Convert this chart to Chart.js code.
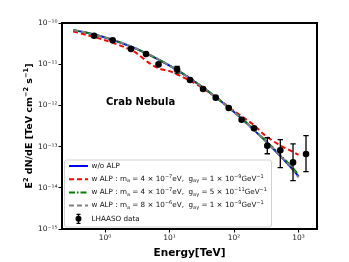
<!DOCTYPE html>
<html>
<head>
<meta charset="utf-8">
<script src="https://cdn.jsdelivr.net/npm/chart.js@4.4.1/dist/chart.umd.min.js"></script>
<style>
body{margin:0;background:#fff}
</style>
</head>
<body>
<canvas id="myChart" width="349" height="262"></canvas>
<script>
// model curves, TeV vs TeV cm^-2 s^-1
let energias=[0.32,0.5,1,2,3,5,7,10,15,20,30,50,70,100,150,200,300,500,700,1000]
let semAlp=[6.7e-11,5.86e-11,4.44e-11,3.08e-11,2.38e-11,1.64e-11,1.25e-11,9.2e-12,6.25e-12,4.7e-12,3.03e-12,1.67e-12,1.1e-12,6.9e-13,3.97e-13,2.6e-13,1.42e-13,6.3e-14,3.6e-14,1.9e-14]
let alpVermelho=[6.25e-11,5.2e-11,3.83e-11,2.59e-11,1.9e-11,1.03e-11,7.8e-12,6.8e-12,5.1e-12,4.1e-12,2.85e-12,1.67e-12,1.12e-12,7.3e-13,4.7e-13,3.4e-13,1.9e-13,1.1e-13,8.4e-14,6.3e-14]
let alpVerde=[6.75e-11,5.9e-11,4.46e-11,3.1e-11,2.4e-11,1.65e-11,1.26e-11,9.3e-12,6.3e-12,4.75e-12,3.05e-12,1.68e-12,1.1e-12,7.0e-13,4.0e-13,2.63e-13,1.45e-13,6.7e-14,3.9e-14,2.1e-14]
let alpCinza=[6.75e-11,5.9e-11,4.47e-11,3.12e-11,2.42e-11,1.67e-11,1.27e-11,9.3e-12,6.3e-12,4.72e-12,3.04e-12,1.67e-12,1.1e-12,6.9e-13,3.97e-13,2.6e-13,1.42e-13,6.4e-14,3.7e-14,1.8e-14]

// LHAASO points
let dadosE=[0.675,1.31,2.53,4.32,6.75,13.1,20.8,33.1,52,82.7,131,204,328,522,822,1307]
let dadosF=[4.9e-11,3.8e-11,2.34e-11,1.77e-11,9.9e-12,7.4e-12,4.14e-12,2.5e-12,1.54e-12,8.65e-13,4.5e-13,2.8e-13,1.05e-13,8.1e-14,4.14e-14,6.6e-14]
let dadosBaixo=[4.9e-11,3.8e-11,2.34e-11,1.77e-11,9.1e-12,6.05e-12,4.14e-12,2.5e-12,1.54e-12,8.65e-13,4.5e-13,2.8e-13,6.7e-14,3.1e-14,1.5e-14,2.46e-14]
let dadosAlto=[4.9e-11,3.8e-11,2.34e-11,1.77e-11,1.08e-11,8.9e-12,4.14e-12,2.5e-12,1.54e-12,8.65e-13,4.5e-13,2.8e-13,1.64e-13,1.47e-13,1.17e-13,1.84e-13]

let ticksX=[1,10,100,1000]
let ticksY=[1e-15,1e-14,1e-13,1e-12,1e-11,1e-10]
let supNum={'0':'⁰','1':'¹','2':'²','3':'³','4':'⁴','5':'⁵','6':'⁶','7':'⁷','8':'⁸','9':'⁹','-':'⁻'}

let legendaTextos=[
    [['w/o ALP',0]],
    [['w ALP : m',0],['a',-1],[' = 4 × 10',0],['−7',1],['eV,  g',0],['aγ',-1],[' = 1 × 10',0],['−9',1],['GeV',0],['−1',1]],
    [['w ALP : m',0],['a',-1],[' = 4 × 10',0],['−7',1],['eV,  g',0],['aγ',-1],[' = 5 × 10',0],['−11',1],['GeV',0],['−1',1]],
    [['w ALP : m',0],['a',-1],[' = 8 × 10',0],['−6',1],['eV,  g',0],['aγ',-1],[' = 1 × 10',0],['−9',1],['GeV',0],['−1',1]],
    [['LHAASO data',0]]
]

const fonte='"DejaVu Sans"'

function pares(xs,ys){
    return xs.map((v,i)=>({x:v,y:ys[i]}))
}
function expoente(v){
    let e=Math.round(Math.log10(v))
    return '10'+String(e).split('').map(c=>supNum[c]).join('')
}
function textoRico(ctx,partes,x,y,tam,negrito,medir){
    let cx=x
    for(let i=0;i<partes.length;i++){
        let t=partes[i][0]
        let m=partes[i][1]
        let fs=m?tam*0.7:tam
        ctx.font=(negrito?'bold ':'')+fs+'px '+fonte
        let dy=m===1?-tam*0.4:(m===-1?tam*0.25:0)
        if(!medir) ctx.fillText(t,cx,y+dy)
        cx+=ctx.measureText(t).width
    }
    return cx-x
}

const extras={
    id:'extras',
    afterDatasetsDraw(chart){
        const ctx=chart.ctx
        const sx=chart.scales.x
        const sy=chart.scales.y
        ctx.save()
        ctx.strokeStyle='#000'
        ctx.lineWidth=1.3
        for(let i=0;i<dadosE.length;i++){
            if(dadosAlto[i]/dadosBaixo[i]<1.05) continue
            let x=sx.getPixelForValue(dadosE[i])
            let y1=sy.getPixelForValue(dadosAlto[i])
            let y2=sy.getPixelForValue(dadosBaixo[i])
            ctx.beginPath()
            ctx.moveTo(x,y1);ctx.lineTo(x,y2)
            ctx.moveTo(x-2.7,y1);ctx.lineTo(x+2.7,y1)
            ctx.moveTo(x-2.7,y2);ctx.lineTo(x+2.7,y2)
            ctx.stroke()
        }
        ctx.restore()
    },
    afterDraw(chart){
        const ctx=chart.ctx
        const a=chart.chartArea
        const sx=chart.scales.x
        const sy=chart.scales.y
        ctx.save()
        // frame
        ctx.strokeStyle='#000'
        ctx.lineWidth=2
        ctx.strokeRect(a.left,a.top,a.right-a.left,a.bottom-a.top)

        // Crab Nebula
        ctx.fillStyle='#000'
        ctx.font='bold 10px '+fonte
        ctx.textBaseline='middle'
        ctx.textAlign='left'
        ctx.fillText('Crab Nebula',sx.getPixelForValue(1.03),sy.getPixelForValue(1.2e-12))

        // legend
        let lx=64.5, ly=160, lw=207, lh=67
        ctx.fillStyle='rgba(255,255,255,0.85)'
        ctx.strokeStyle='#d0d0d0'
        ctx.lineWidth=1
        ctx.beginPath()
        ctx.roundRect(lx,ly,lw,lh,2)
        ctx.fill()
        ctx.stroke()
        let cores=['#0000ff','#ff0000','#008000','#808080']
        let tracos=[[],[5,3],[6,2,1.5,2],[5,3]]
        ctx.textBaseline='middle'
        for(let i=0;i<5;i++){
            let yy=ly+6+i*13.2
            if(i<4){
                ctx.strokeStyle=cores[i]
                ctx.lineWidth=2
                ctx.setLineDash(tracos[i])
                ctx.beginPath()
                ctx.moveTo(69,yy);ctx.lineTo(88,yy)
                ctx.stroke()
                ctx.setLineDash([])
            }else{
                ctx.strokeStyle='#000'
                ctx.lineWidth=1.3
                ctx.beginPath()
                ctx.moveTo(78.5,yy-4.5);ctx.lineTo(78.5,yy+4.5)
                ctx.moveTo(76.5,yy-4.5);ctx.lineTo(80.5,yy-4.5)
                ctx.moveTo(76.5,yy+4.5);ctx.lineTo(80.5,yy+4.5)
                ctx.stroke()
                ctx.fillStyle='#000'
                ctx.beginPath()
                ctx.arc(78.5,yy,3,0,Math.PI*2)
                ctx.fill()
            }
            ctx.fillStyle='#111'
            textoRico(ctx,legendaTextos[i],91.5,yy,7.2,false,false)
        }

        // axis titles
        ctx.fillStyle='#000'
        ctx.textBaseline='alphabetic'
        ctx.font='bold 10.5px '+fonte
        ctx.textAlign='center'
        ctx.fillText('Energy[TeV]',(a.left+a.right)/2,255.5)
        ctx.textAlign='left'
        let tituloY=[['E',0],['2',1],[' dN/dE [TeV cm',0],['−2',1],[' s',0],['−1',1],[']',0]]
        let w=textoRico(ctx,tituloY,0,0,9.5,true,true)
        ctx.translate(32,(a.top+a.bottom)/2)
        ctx.rotate(-Math.PI/2)
        textoRico(ctx,tituloY,-w/2,0,9.5,true,false)
        ctx.restore()
    }
}

const ctx=document.getElementById('myChart')
const grafico=new Chart(ctx,{
    type:'line',
    data:{
        datasets:[
            {label:'w/o ALP',order:4,data:pares(energias,semAlp),borderColor:'#0000ff',borderWidth:2,pointRadius:0,tension:0.3},
            {label:'red',order:3,data:pares(energias,alpVermelho),borderColor:'#ff0000',borderWidth:2,borderDash:[5,3],pointRadius:0,tension:0.3},
            {label:'green',order:2,data:pares(energias,alpVerde),borderColor:'#008000',borderWidth:2,borderDash:[6,2,1.5,2],pointRadius:0,tension:0.3},
            {label:'gray',order:1,data:pares(energias,alpCinza),borderColor:'#808080',borderWidth:2,borderDash:[5,3],pointRadius:0,tension:0.3},
            {label:'LHAASO data',order:0,data:pares(dadosE,dadosF),showLine:false,pointRadius:3.3,pointBackgroundColor:'#000',pointBorderColor:'#000',pointBorderWidth:0}
        ]
    },
    options:{
        responsive:false,
        animation:false,
        layout:{padding:{left:0,right:32,top:23,bottom:0}},
        plugins:{legend:{display:false},tooltip:{enabled:false}},
        scales:{
            x:{
                type:'logarithmic',
                min:0.215,
                max:1935,
                afterBuildTicks:(s)=>{s.ticks=ticksX.map(v=>({value:v}))},
                afterFit:(s)=>{s.height=33},
                grid:{drawOnChartArea:false,color:'#000',tickLength:3.5,tickWidth:1},
                border:{display:false},
                ticks:{callback:(v)=>expoente(v),font:{family:'DejaVu Sans',size:7.5},color:'#222',padding:1,maxRotation:0,autoSkip:false}
            },
            y:{
                type:'logarithmic',
                min:1e-15,
                max:1e-10,
                afterBuildTicks:(s)=>{s.ticks=ticksY.map(v=>({value:v}))},
                afterFit:(s)=>{s.width=62},
                grid:{drawOnChartArea:false,color:'#000',tickLength:3.5,tickWidth:1},
                border:{display:false},
                ticks:{callback:(v)=>expoente(v),font:{family:'DejaVu Sans',size:7.5},color:'#222',padding:1,autoSkip:false}
            }
        }
    },
    plugins:[extras]
})
</script>
</body>
</html>
